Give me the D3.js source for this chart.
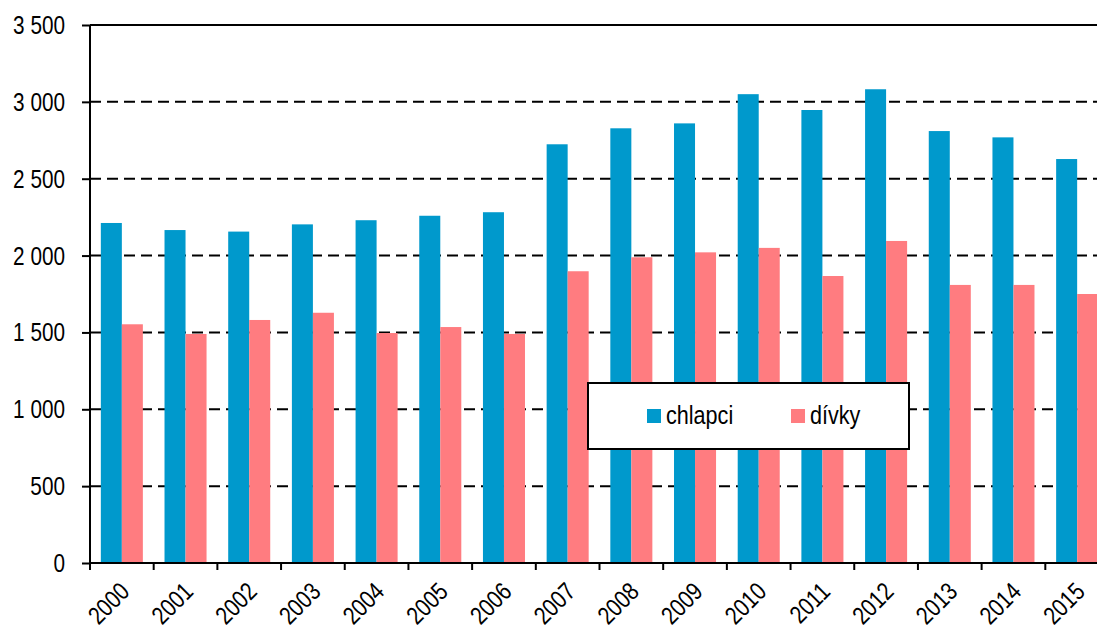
<!DOCTYPE html>
<html><head><meta charset="utf-8">
<script src="https://cdn.jsdelivr.net/npm/d3@7"></script>
<style>
html,body{margin:0;padding:0;background:#fff;}
svg{display:block;}
text{font-family:"Liberation Sans",Arial,sans-serif;fill:#000;}
</style></head>
<body>
<svg id="chart" width="1097" height="630"></svg>
<script>
const years = ["2000","2001","2002","2003","2004","2005","2006","2007","2008","2009","2010","2011","2012","2013","2014","2015"];
const chlapci = [2212,2166,2156,2203,2230,2259,2282,2724,2828,2860,3050,2947,3082,2810,2769,2628];
const divky = [1553,1490,1581,1628,1496,1535,1490,1898,1989,2021,2050,1867,2095,1809,1809,1750];
const seriesNames = ["chlapci","dívky"];
const colors = ["#0099CC","#FF7C80"];
const yTicks = [0,500,1000,1500,2000,2500,3000,3500];

const svg = d3.select("#chart");
const mLeft = 90, mTop = 25, mBottom = 563, mRight = 1109;
const x = d3.scaleBand().domain(years).range([mLeft, mRight]).paddingInner(0.34).paddingOuter(0.17);
const step = x.step();
const xs = d3.scaleBand().domain(seriesNames).range([0, x.bandwidth()]);
const y = d3.scaleLinear().domain([0,3500]).range([mBottom, mTop]);
const fmt = v => d3.format(",")(v).replace(/,/g, " ");
const narrow = sel => sel.each(function() {
  const w = this.getComputedTextLength();
  d3.select(this).attr("textLength", w * 0.83).attr("lengthAdjust", "spacingAndGlyphs");
});

// gridlines
svg.append("g").selectAll("line").data(yTicks.filter(d => d > 0)).join("line")
  .attr("x1", mLeft).attr("x2", 1097)
  .attr("y1", d => y(d)).attr("y2", d => y(d))
  .attr("stroke", "#000").attr("stroke-width", 2)
  .attr("stroke-dasharray", d => d === 3500 ? null : "11,6");

// bars
const data = years.map((yr, i) => ({yr, vals: [chlapci[i], divky[i]]}));
const g = svg.append("g").selectAll("g").data(data).join("g")
  .attr("transform", d => `translate(${x(d.yr)},0)`);
g.selectAll("rect").data(d => d.vals.map((v, j) => ({v, s: seriesNames[j], c: colors[j]}))).join("rect")
  .attr("x", d => xs(d.s)).attr("width", xs.bandwidth())
  .attr("y", d => y(d.v)).attr("height", d => y(0) - y(d.v))
  .attr("fill", d => d.c);

// y axis
const yAxis = d3.axisLeft(y).tickValues(yTicks).tickFormat(fmt).tickSize(8).tickPadding(17);
const ya = svg.append("g").attr("transform", `translate(${mLeft},0)`).call(yAxis);
ya.attr("font-family", null).attr("font-size", null);
ya.select(".domain").attr("stroke", "#000").attr("stroke-width", 2).attr("d", `M0,${mTop}V${mBottom}`);
ya.selectAll(".tick line").attr("stroke", "#000").attr("stroke-width", 2);
ya.selectAll(".tick text").attr("font-size", 25).attr("dy", "0.34em").call(narrow);

// x axis line
svg.append("line").attr("x1", mLeft).attr("x2", 1097).attr("y1", mBottom).attr("y2", mBottom)
  .attr("stroke", "#000").attr("stroke-width", 2);
// x tick marks at category boundaries
const bounds = d3.range(years.length + 1).map(i => mLeft + i * step);
svg.append("g").selectAll("line").data(bounds).join("line")
  .attr("x1", d => d).attr("x2", d => d).attr("y1", mBottom).attr("y2", mBottom + 7)
  .attr("stroke", "#000").attr("stroke-width", 2);
// x labels
svg.append("g").selectAll("text").data(years).join("text")
  .attr("transform", d => `translate(${x(d) + x.bandwidth()/2 + 3},${mBottom + 24}) rotate(-45)`)
  .attr("text-anchor", "end").attr("font-size", 25).attr("dy", "0.35em")
  .text(d => d).call(narrow);

// legend
const lg = svg.append("g");
lg.append("rect").attr("x", 588).attr("y", 383).attr("width", 321).attr("height", 66)
  .attr("fill", "#fff").attr("stroke", "#000").attr("stroke-width", 2);
const lx = [647, 791];
seriesNames.forEach((s, i) => {
  lg.append("rect").attr("x", lx[i]).attr("y", 409).attr("width", 14).attr("height", 14).attr("fill", colors[i]);
  lg.append("text").attr("x", lx[i] + 19).attr("y", 424).attr("font-size", 26).text(s).call(narrow);
});
</script>
</body></html>
